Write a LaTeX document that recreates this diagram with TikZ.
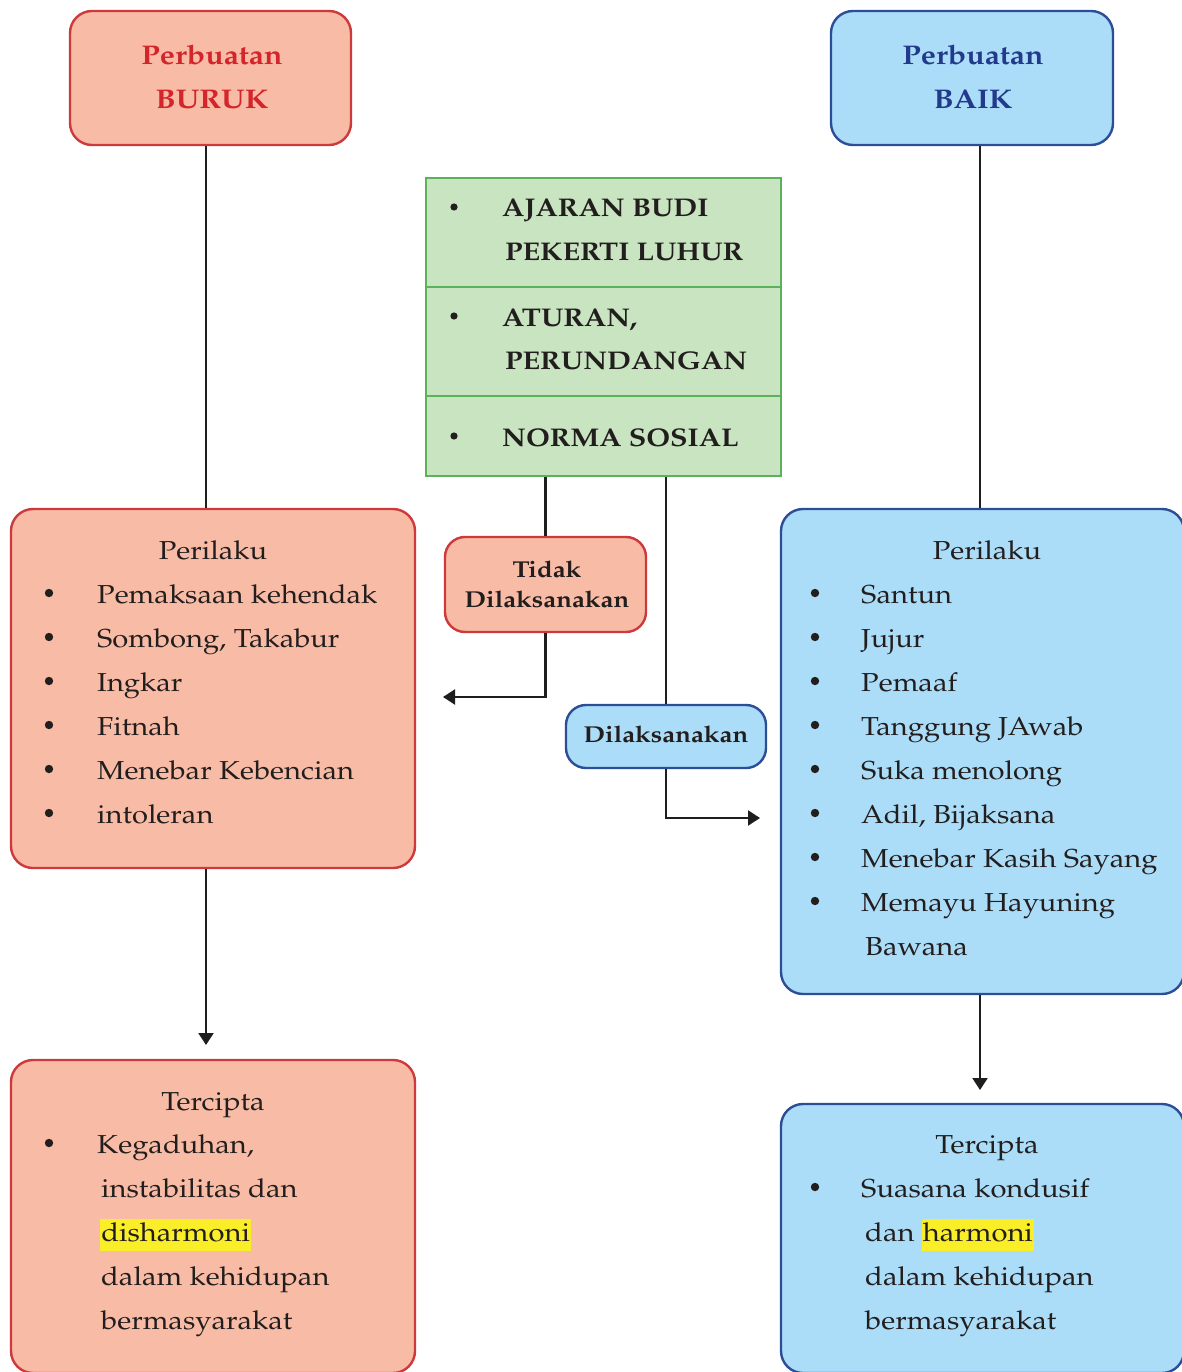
\documentclass[tikz,border=0pt]{standalone}
\usepackage[T1]{fontenc}
\renewcommand{\rmdefault}{ppl}
\usepackage{graphicx}
\usetikzlibrary{arrows.meta,calc}

\definecolor{salmon}{RGB}{248,188,166}
\definecolor{redline}{RGB}{205,58,60}
\definecolor{redtext}{RGB}{212,36,44}
\definecolor{skyfill}{RGB}{172,221,248}
\definecolor{blueline}{RGB}{44,78,150}
\definecolor{bluetext}{RGB}{34,58,140}
\definecolor{leaf}{RGB}{200,228,193}
\definecolor{leafline}{RGB}{92,178,92}
\definecolor{ink}{RGB}{35,30,30}
\definecolor{wire}{RGB}{30,30,30}
\definecolor{marker}{RGB}{250,238,40}

\newcommand\wide[1]{\scalebox{1.12}[1]{#1}}
\newcommand\marked[1]{{\setlength{\fboxsep}{1pt}\colorbox{marker}{\strut #1}}}

\tikzset{
  redbox/.style={draw=redline, fill=salmon, line width=2.4pt, rounded corners=22pt, inner sep=0pt},
  bluebox/.style={draw=blueline, fill=skyfill, line width=2.4pt, rounded corners=22pt, inner sep=0pt},
  greenbox/.style={draw=leafline, fill=leaf, line width=2.4pt, inner sep=0pt},
  item/.style={anchor=base west, inner sep=0pt, text=ink, font=\fontsize{26}{30}\selectfont},
  title/.style={anchor=base, inner sep=0pt, text=ink, font=\fontsize{26}{30}\selectfont},
  head/.style={anchor=base, inner sep=0pt, font=\bfseries\fontsize{27}{32}\selectfont},
  gitem/.style={anchor=base west, inner sep=0pt, text=ink, font=\bfseries\fontsize{25.6}{30}\selectfont},
  small/.style={anchor=base, inner sep=0pt, text=ink, font=\bfseries\fontsize{23}{27}\selectfont},
  wireline/.style={draw=wire, line width=2.2pt},
  arrowline/.style={draw=wire, line width=2.2pt, -{Triangle[length=12pt,width=15pt]}},
  dot/.style={fill=ink}
}

\begin{document}
\begin{tikzpicture}[x=1pt,y=-1pt]
\clip (0,0) rectangle (1182,1372);
\fill[white] (0,0) rectangle (1182,1372);

% ---- boxes ----
\node[redbox, minimum width=281pt, minimum height=134pt] (buruk) at (210.5,78) {};
\node[bluebox, minimum width=282pt, minimum height=134pt] (baik) at (972,78) {};

\node[greenbox, minimum width=355pt, minimum height=109pt] (g1) at (603.5,232.5) {};
\node[greenbox, minimum width=355pt, minimum height=109pt] (g2) at (603.5,341.5) {};
\node[greenbox, minimum width=355pt, minimum height=80pt] (g3) at (603.5,436) {};

\node[redbox, minimum width=404pt, minimum height=359pt] (perL) at (213,688.5) {};
\node[bluebox, minimum width=403pt, minimum height=485pt] (perR) at (982.5,751.5) {};

\node[redbox, rounded corners=20pt, minimum width=201pt, minimum height=95pt] (tidak) at (545.5,584.5) {};
\node[bluebox, rounded corners=20pt, minimum width=200pt, minimum height=63pt] (dila) at (666,736.5) {};

\node[redbox, minimum width=404pt, minimum height=313pt] (terL) at (213,1216.5) {};
\node[bluebox, minimum width=403pt, minimum height=269pt] (terR) at (982.5,1238.5) {};

% ---- connectors ----
\coordinate (tidakEnd) at (443,697);
\coordinate (dilaEnd) at (760,818);
\coordinate (perLEnd) at (206,1045);
\coordinate (perREnd) at (980,1090);

\draw[wireline] (buruk.south -| perLEnd) -- (perL.north -| perLEnd);
\draw[wireline] (baik.south -| perREnd) -- (perR.north -| perREnd);
\draw[wireline] (g3.south -| tidak.north) -- (tidak.north);
\draw[wireline] (g3.south -| dila.north) -- (dila.north);
\draw[arrowline] (tidak.south) |- (tidakEnd);
\draw[arrowline] (dila.south) |- (dilaEnd);
\draw[arrowline] (perL.south -| perLEnd) -- (perLEnd);
\draw[arrowline] (perR.south -| perREnd) -- (perREnd);

% ---- headings ----
\node[head, text=redtext] (bu1) at (212,65) {\wide{Perbuatan}};
\node[head, text=redtext] (bu2) at (212,109) {\wide{BURUK}};
\node[head, text=bluetext] (ba1) at (973,65) {\wide{Perbuatan}};
\node[head, text=bluetext] (ba2) at (973,109) {\wide{BAIK}};

% ---- norms ----
\foreach \yy in {207,316,436} \fill[dot] (454,\yy) circle (3.6pt);
\node[gitem] (n1) at (502,217) {\wide{AJARAN BUDI}};
\node[gitem] (n2) at (505,260) {\wide{PEKERTI LUHUR}};
\node[gitem] (n3) at (502,326) {\wide{ATURAN,}};
\node[gitem] (n4) at (505,369) {\wide{PERUNDANGAN}};
\node[gitem] (n5) at (502,446) {\wide{NORMA SOSIAL}};

\node[small] (t1) at (547,577) {\wide{Tidak}};
\node[small] (t2) at (547,607) {\wide{Dilaksanakan}};
\node[small] (d1) at (666,742) {\wide{Dilaksanakan}};

% ---- left behaviour list ----
\node[title] (pl0) at (213,559) {\wide{Perilaku}};
\foreach \yy in {593,637,681,725,769,813} \fill[dot] (49,\yy) circle (4.2pt);
\node[item] (pl1) at (97,603) {\wide{Pemaksaan kehendak}};
\node[item] (pl2) at (97,647) {\wide{Sombong, Takabur}};
\node[item] (pl3) at (97,691) {\wide{Ingkar}};
\node[item] (pl4) at (97,735) {\wide{Fitnah}};
\node[item] (pl5) at (97,779) {\wide{Menebar Kebencian}};
\node[item] (pl6) at (97,823) {\wide{intoleran}};

% ---- right behaviour list ----
\node[title] (pr0) at (987,559) {\wide{Perilaku}};
\foreach \yy in {593,637,681,725,769,813,857,901} \fill[dot] (815,\yy) circle (4.2pt);
\node[item] (pr1) at (861,603) {\wide{Santun}};
\node[item] (pr2) at (861,647) {\wide{Jujur}};
\node[item] (pr3) at (861,691) {\wide{Pemaaf}};
\node[item] (pr4) at (861,735) {\wide{Tanggung JAwab}};
\node[item] (pr5) at (861,779) {\wide{Suka menolong}};
\node[item] (pr6) at (861,823) {\wide{Adil, Bijaksana}};
\node[item] (pr7) at (861,867) {\wide{Menebar Kasih Sayang}};
\node[item] (pr8) at (861,911) {\wide{Memayu Hayuning}};
\node[item] (pr9) at (865,955) {\wide{Bawana}};

% ---- left outcome ----
\node[title] (tl0) at (213,1110) {\wide{Tercipta}};
\fill[dot] (49,1143) circle (4.2pt);
\node[item] (tl1) at (97,1153) {\wide{Kegaduhan,}};
\node[item] (tl2) at (101,1197) {\wide{instabilitas dan}};
\node[item] (tl3) at (100,1241) {\wide{\marked{disharmoni}}};
\node[item] (tl4) at (101,1285) {\wide{dalam kehidupan}};
\node[item] (tl5) at (101,1329) {\wide{bermasyarakat}};

% ---- right outcome ----
\node[title] (tr0) at (987,1153) {\wide{Tercipta}};
\fill[dot] (815,1187) circle (4.2pt);
\node[item] (tr1) at (861,1197) {\wide{Suasana kondusif}};
\node[item] (tr2) at (865,1241) {\wide{dan \marked{harmoni}}};
\node[item] (tr3) at (865,1285) {\wide{dalam kehidupan}};
\node[item] (tr4) at (865,1329) {\wide{bermasyarakat}};
\end{tikzpicture}
\end{document}
